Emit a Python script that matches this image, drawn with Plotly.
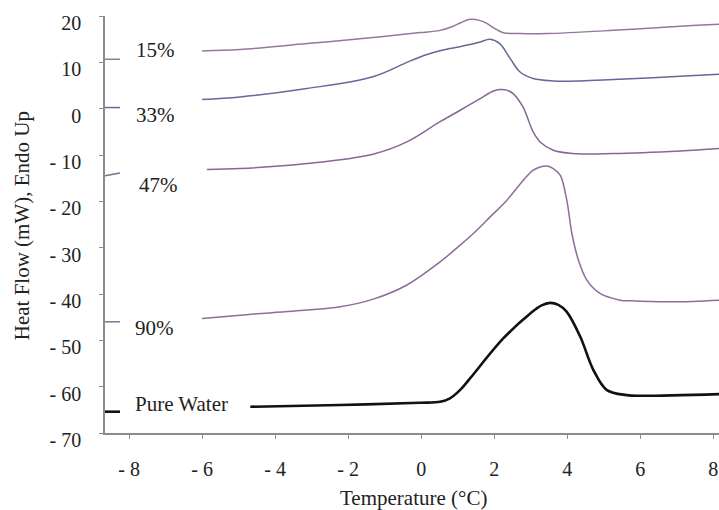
import plotly.graph_objects as go

# ---- data ----
x15 = [-6.0, -4.96, -3.13, -1.32, -0.03, 0.52, 0.88, 1.07, 1.34, 1.62, 1.80, 2.06, 2.25, 2.71, 3.44, 5.26, 7.10, 8.16]
y15 = [12.45, 12.75, 14.05, 15.34, 16.42, 16.9, 17.8, 18.5, 19.3, 19.0, 18.4, 17.1, 16.4, 16.2, 16.2, 16.9, 17.8, 18.2]

x33 = [-6.0, -4.96, -3.13, -1.32, -0.39, -0.03, 0.25, 0.79, 1.34, 1.62, 1.89, 2.16, 2.44, 2.71, 3.07, 3.62, 4.36, 5.26, 7.10, 8.16]
y33 = [1.97, 2.53, 4.34, 6.9, 10.0, 11.16, 11.9, 12.97, 13.83, 14.39, 14.97, 14.0, 10.81, 7.92, 6.50, 5.98, 5.98, 6.28, 6.99, 7.42]

x47 = [-5.87, -4.96, -3.13, -1.32, -0.39, 0.52, 1.07, 1.62, 1.98, 2.16, 2.34, 2.52, 2.79, 3.07, 3.26, 3.62, 4.16, 5.26, 7.10, 8.16]
y47 = [-13.13, -12.92, -11.84, -9.83, -7.18, -2.8, -0.34, 2.18, 3.8, 4.12, 4.0, 3.26, 0.37, -5.02, -7.18, -8.97, -9.68, -9.68, -9.12, -8.60]

x90 = [-6.0, -4.96, -3.13, -2.22, -1.31, -0.39, 0.52, 1.07, 1.43, 1.89, 2.35, 2.80, 3.07, 3.26, 3.44, 3.62, 3.81, 3.99, 4.13, 4.31, 4.54, 4.90, 5.45, 5.73, 6.90, 8.16]
y90 = [-45.27, -44.56, -43.48, -42.77, -41.11, -38.05, -33.06, -29.46, -26.94, -23.36, -19.75, -15.44, -13.28, -12.57, -12.36, -12.92, -14.36, -19.75, -26.94, -32.70, -37.01, -39.88, -41.33, -41.48, -41.69, -41.33]

xpw = [-4.68, -2.22, -0.03, 0.52, 0.79, 1.07, 1.34, 2.25, 2.99, 3.30, 3.53, 3.76, 3.99, 4.36, 4.72, 5.09, 5.63, 6.00, 8.16]
ypw = [-64.34, -63.97, -63.48, -63.26, -62.53, -60.7, -58.21, -49.59, -44.19, -42.45, -41.91, -42.35, -43.85, -49.24, -56.42, -60.74, -61.82, -61.97, -61.60]

# short key segments beside the y axis
key_x = [-8.66, -8.25]
key15 = [10.66, 10.66]
key33 = [0.24, 0.24]
key47 = [-14.5, -13.9]
key90 = [-46.0, -46.0]
keypw = [-65.4, -65.4]

labels = ["15%", "33%", "47%", "90%", "Pure Water"]
label_x = [-7.86, -7.86, -7.78, -7.90, -7.90]
label_y = [12.6, -1.4, -16.5, -47.4, -63.8]

xtick_vals = [-8, -6, -4, -2, 0, 2, 4, 6, 8]
xtick_text = ["- 8", "- 6", "- 4", "- 2", "0", "2", "4", "6", "8"]
ytick_vals = [20, 10, 0, -10, -20, -30, -40, -50, -60, -70]
ytick_text = ["20", "10", "0", "- 10", "- 20", "- 30", "- 40", "- 50", "- 60", "- 70"]

colors = {"15": "#94779b", "33": "#67679a", "47": "#876794", "90": "#8d6c98", "pw": "#111111"}
FONT = "Liberation Serif"

fig = go.Figure()
series = [
    (x15, y15, key15, colors["15"], 1.5),
    (x33, y33, key33, colors["33"], 1.5),
    (x47, y47, key47, colors["47"], 1.5),
    (x90, y90, key90, colors["90"], 1.5),
    (xpw, ypw, keypw, colors["pw"], 2.6),
]
for xs, ys, ky, c, w in series:
    fig.add_trace(go.Scatter(x=xs, y=ys, mode="lines",
                             line=dict(color=c, width=w, shape="spline", smoothing=1.0),
                             showlegend=False, hoverinfo="skip"))
    fig.add_trace(go.Scatter(x=key_x, y=ky, mode="lines",
                             line=dict(color=c, width=w), showlegend=False,
                             hoverinfo="skip", cliponaxis=False))

for t, lx, ly in zip(labels, label_x, label_y):
    fig.add_annotation(x=lx, y=ly, xref="x", yref="y", text=t, showarrow=False,
                       xanchor="left", yanchor="middle",
                       font=dict(family=FONT, size=21, color="#222"))

fig.add_annotation(x=0.503, y=-0.155, xref="paper", yref="paper",
                   text="Temperature (°C)", showarrow=False,
                   xanchor="center", yanchor="middle",
                   font=dict(family=FONT, size=21, color="#222"))
fig.add_annotation(x=-0.136, y=0.497, xref="paper", yref="paper",
                   text="Heat Flow (mW), Endo Up", showarrow=False, textangle=-90,
                   xanchor="center", yanchor="middle",
                   font=dict(family=FONT, size=21, color="#222"))

fig.update_layout(
    width=719, height=510,
    margin=dict(l=105, r=0, t=16, b=77),
    paper_bgcolor="white", plot_bgcolor="white",
    font=dict(family=FONT, size=20, color="#222"),
)
fig.update_xaxes(range=[-8.66, 8.16], tickvals=xtick_vals, ticktext=xtick_text,
                 showgrid=False, zeroline=False, showline=True, linecolor="#8c8c8c",
                 linewidth=1.6, ticks="outside", ticklen=4, tickcolor="#8c8c8c",
                 ticklabelstandoff=13, tickfont=dict(family=FONT, size=20, color="#222"))
fig.update_yaxes(range=[-70, 20], tickvals=ytick_vals, ticktext=ytick_text,
                 showgrid=False, zeroline=False, showline=True, linecolor="#8c8c8c",
                 linewidth=1.6, ticks="outside", ticklen=4, tickcolor="#8c8c8c",
                 ticklabelstandoff=14, ticklabelshift=7,
                 tickfont=dict(family=FONT, size=20, color="#222"))

fig.write_html("out.html")
